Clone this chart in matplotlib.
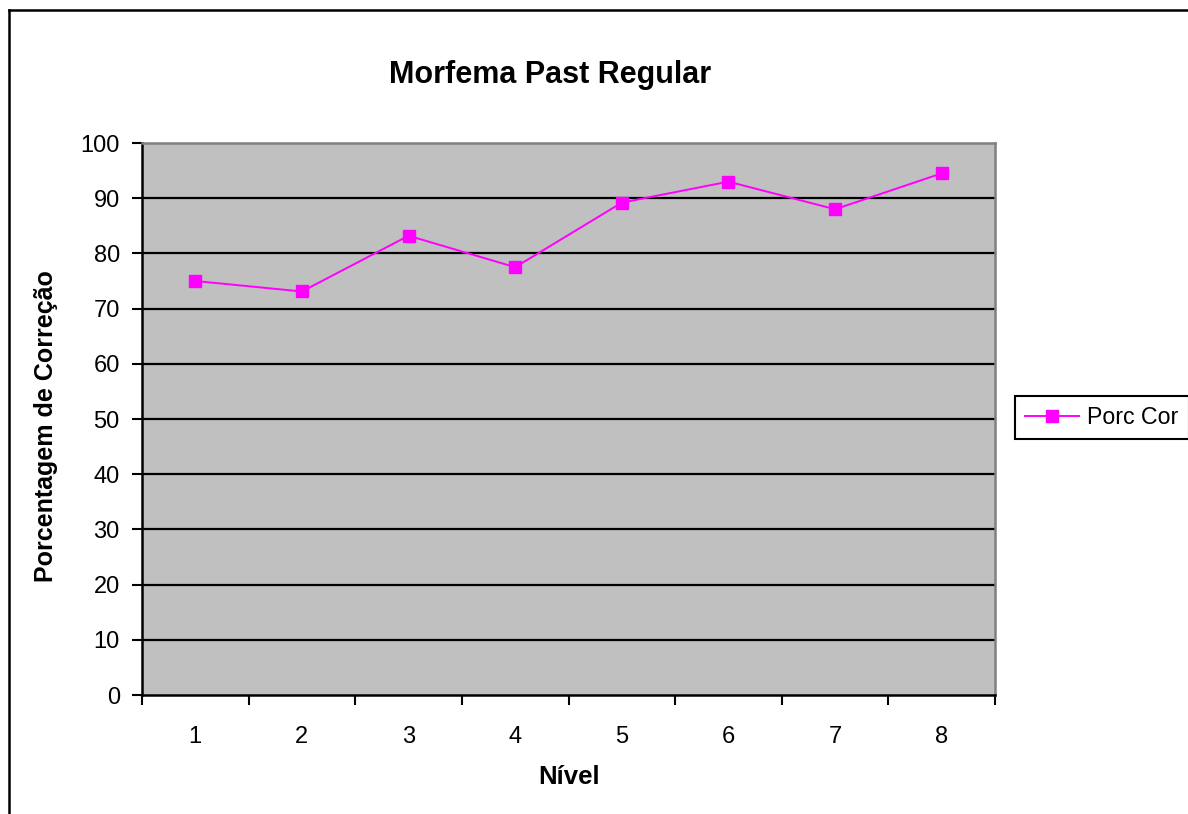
import matplotlib
matplotlib.use("Agg")
import matplotlib.pyplot as plt
from matplotlib.lines import Line2D

plt.rcParams['font.family'] = ['Liberation Sans', 'DejaVu Sans']

niveis = [1, 2, 3, 4, 5, 6, 7, 8]
porc_cor = [75.0, 73.1, 83.2, 77.5, 89.2, 93.0, 88.0, 94.5]
y_ticks = [0, 10, 20, 30, 40, 50, 60, 70, 80, 90, 100]

W, H = 1188, 814
fig = plt.figure(figsize=(W / 100, H / 100), dpi=100)
fig.patch.set_facecolor('white')

# plot area in pixel terms -> figure fractions
left, right, top, bottom = 142, 995, 143, 695
ax = fig.add_axes([left / W, 1 - bottom / H, (right - left) / W, (bottom - top) / H])
ax.set_facecolor('#c0c0c0')

for v in y_ticks[1:-1]:
    ax.axhline(v, color='black', lw=1.6, zorder=1)

line, = ax.plot(niveis, porc_cor, color='#ff00ff', lw=1.4, marker='s',
                markersize=8, markeredgecolor='#ff00ff', zorder=3,
                label='Porc Cor')

ax.set_xlim(0.5, 8.5)
ax.set_ylim(0, 100)
ax.set_yticks(y_ticks)
ax.set_xticks([i + 0.5 for i in range(0, 9)])
ax.set_xticklabels([])
ax.set_xticks(niveis, minor=True)
ax.set_xticklabels([str(n) for n in niveis], minor=True)

ax.tick_params(axis='y', direction='out', length=7, width=1.5, labelsize=17, pad=9)
ax.tick_params(axis='x', which='major', direction='out', length=7, width=1.5)
ax.tick_params(axis='x', which='minor', length=0, labelsize=17, pad=22)

ax.spines['left'].set_color('black')
ax.spines['left'].set_linewidth(1.8)
ax.spines['bottom'].set_color('black')
ax.spines['bottom'].set_linewidth(1.8)
ax.spines['top'].set_color('#808080')
ax.spines['top'].set_linewidth(1.8)
ax.spines['right'].set_color('#808080')
ax.spines['right'].set_linewidth(1.8)

fig.text(550 / W, 1 - 75 / H, 'Morfema Past Regular', ha='center', va='center',
         fontsize=22, fontweight='bold')
fig.text(46 / W, 1 - 426 / H, 'Porcentagem de Correção', ha='center', va='center',
         rotation=90, fontsize=18, fontweight='bold')
fig.text(569 / W, 1 - 777 / H, 'Nível', ha='center', va='center',
         fontsize=18.5, fontweight='bold')

leg = fig.legend(handles=[line], loc='center left',
                 bbox_to_anchor=(1015 / W, 1 - 417.5 / H),
                 fontsize=16.7, frameon=True, fancybox=False, framealpha=1,
                 edgecolor='black', handlelength=2.3, handletextpad=0.35,
                 borderpad=0.45, borderaxespad=0)
leg.get_frame().set_linewidth(1.5)

# outer chart border (top and left edges)
fig.add_artist(Line2D([9 / W, 1.0], [1 - 10 / H, 1 - 10 / H], color='black', lw=1.8))
fig.add_artist(Line2D([9 / W, 9 / W], [0.0, 1 - 10 / H], color='black', lw=1.8))

fig.savefig('out.png', dpi=100)
